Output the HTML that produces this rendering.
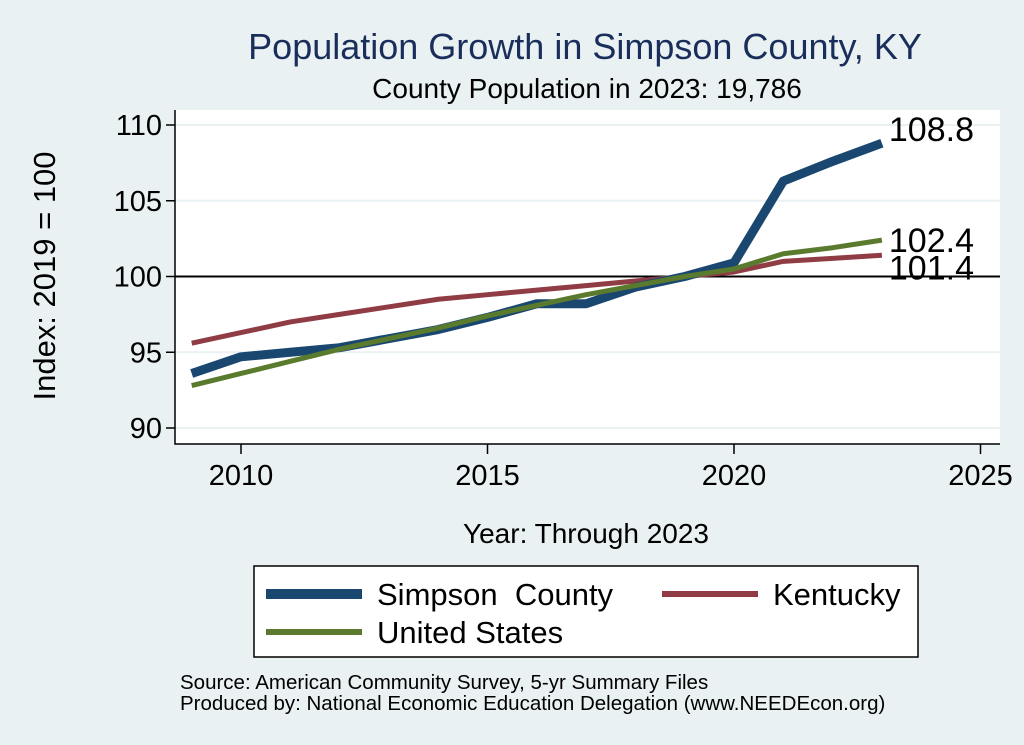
<!DOCTYPE html>
<html><head><meta charset="utf-8"><style>
body{margin:0;background:#eaf1f3;}
svg{display:block;font-family:"Liberation Sans",sans-serif;}
</style></head><body>
<svg id="chart" width="1024" height="745">
<rect x="0" y="0" width="1024" height="745" fill="#eaf1f3"/>
<text x="585" y="59" font-size="36" fill="#1a2e5c" text-anchor="middle">Population Growth in Simpson County, KY</text>
<text x="587" y="98" font-size="28" fill="#000" text-anchor="middle">County Population in 2023: 19,786</text>
<rect x="175" y="110" width="825" height="334" fill="#fff"/>
<g id="grid"></g>
<g id="axes"></g>
<g id="series"></g>
<text x="586" y="543" font-size="28" text-anchor="middle">Year: Through 2023</text>
<text transform="translate(55,276) rotate(-90)" font-size="31" text-anchor="middle">Index: 2019 = 100</text>
<g>
<rect x="254" y="566" width="664" height="91" fill="#fff" stroke="#000" stroke-width="1.5"/>
<line x1="266" y1="594" x2="362" y2="594" stroke="#1a4770" stroke-width="10"/>
<text x="377" y="605" font-size="31">Simpson&#160;&#160;County</text>
<line x1="662" y1="594" x2="758" y2="594" stroke="#903c44" stroke-width="6"/>
<text x="773" y="605" font-size="31">Kentucky</text>
<line x1="266" y1="632" x2="362" y2="632" stroke="#5a7a2e" stroke-width="6"/>
<text x="377" y="643" font-size="31">United States</text>
</g>
<text x="180" y="689" font-size="20.5">Source: American Community Survey, 5-yr Summary Files</text>
<text x="180" y="710" font-size="20.5">Produced by: National Economic Education Delegation (www.NEEDEcon.org)</text>
</svg>
<script>
const years=[2009,2010,2011,2012,2013,2014,2015,2016,2017,2018,2019,2020,2021,2022,2023];
const simpson=[93.6,94.7,95.0,95.3,95.9,96.5,97.3,98.2,98.2,99.3,100,100.9,106.3,107.6,108.8];
const kentucky=[95.6,96.3,97.0,97.5,98.0,98.5,98.8,99.1,99.4,99.7,100,100.3,101.0,101.2,101.4];
const usa=[92.8,93.6,94.4,95.2,95.9,96.6,97.4,98.1,98.8,99.4,100,100.5,101.5,101.9,102.4];
const xTicks=[2010,2015,2020,2025];
const yTicks=[90,95,100,105,110];
const NS="http://www.w3.org/2000/svg";
const X=v=>241+(v-2010)*49.3;
const Y=v=>428-(v-90)*15.15;
function mk(tag,attrs,parent){const e=document.createElementNS(NS,tag);for(const k in attrs)e.setAttribute(k,attrs[k]);parent.appendChild(e);return e;}
const grid=document.getElementById('grid'),axes=document.getElementById('axes'),ser=document.getElementById('series');
yTicks.forEach(t=>{
 const g=mk('line',{x1:175,x2:1000,y1:Y(t),y2:Y(t),stroke:'#eaf1f3','stroke-width':2},grid);
 
 
 const tk=mk('line',{x1:166,x2:175,y1:Y(t),y2:Y(t),stroke:'#000','stroke-width':1.5},axes);
 
 
 const l=mk('text',{x:162,y:Y(t)+10,'font-size':29,'text-anchor':'end'},axes);l.textContent=t;
 
 
});
xTicks.forEach(t=>{
 const tk=mk('line',{x1:X(t),x2:X(t),y1:444,y2:454,stroke:'#000','stroke-width':1.5},axes);
 
 
 const l=mk('text',{x:X(t),y:485,'font-size':29,'text-anchor':'middle'},axes);l.textContent=t;
 
 
});
const ax=mk('path',{d:'M175,110 V444 H1000',fill:'none',stroke:'#000','stroke-width':1.5},axes);


const ref=mk('line',{x1:175,x2:1000,y1:Y(100),y2:Y(100),stroke:'#000','stroke-width':2},ser);


function line(vals,color,w,name){
 const p=mk('polyline',{points:years.map((y,i)=>X(y)+','+Y(vals[i])).join(' '),fill:'none',stroke:color,'stroke-width':w,'stroke-linejoin':'round'},ser);
 
 
}
line(kentucky,'#903c44',5,'line-kentucky');
line(simpson,'#1a4770',9,'line-simpson');
line(usa,'#5a7a2e',5,'line-us');
const last=years.length-1;
const labs=[[simpson,'#000',-2,'end-label-simpson'],[usa,'#000',12,'end-label-us'],[kentucky,'#000',24,'end-label-kentucky']];
labs.forEach(([v,c,dy,n])=>{
 const t=mk('text',{x:X(years[last])+7,y:Y(v[last])+dy,'font-size':34,fill:c},ser);
 t.textContent=v[last].toFixed(1);
 
 
});
</script>
</body></html>
